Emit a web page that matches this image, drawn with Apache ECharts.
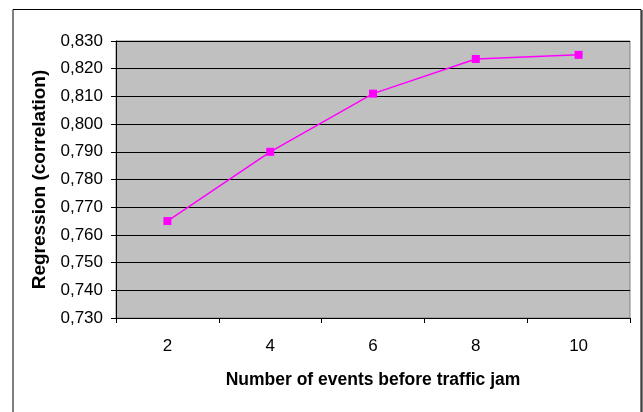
<!DOCTYPE html>
<html><head><meta charset="utf-8">
<script src="https://cdn.jsdelivr.net/npm/echarts@6/dist/echarts.min.js"></script>
<style>html,body{margin:0;padding:0;background:#fff}#c{width:643px;height:412px}</style>
</head><body><div id="c"></div>
<script>
const categories = ['2','4','6','8','10'];
const values = [0.765, 0.790, 0.811, 0.8235, 0.825];
const xName = 'Number of events before traffic jam';
const yName = 'Regression (correlation)';
const chart = echarts.init(document.getElementById('c'), null, {renderer:'canvas'});
chart.setOption({
  animation:false,
  backgroundColor:'#fff',
  graphic:[
    {type:'rect', shape:{x:13,y:9.5,width:628,height:420}, style:{fill:'none',stroke:'#000',lineWidth:1}, z:0},
    {type:'line', shape:{x1:642,y1:10,x2:642,y2:412}, style:{stroke:'#000',lineWidth:1}}
  ],
  grid:{left:116,top:41,right:13,bottom:94,show:true,backgroundColor:'#C0C0C0',borderColor:'#808080',borderWidth:1},
  xAxis:{type:'category',data:categories,boundaryGap:true,
    name:xName,nameLocation:'middle',nameGap:53,
    nameTextStyle:{fontFamily:'Liberation Sans',fontWeight:'bold',fontSize:17.5,color:'#000'},
    axisLine:{lineStyle:{color:'#000',width:1}},
    axisTick:{show:true,length:5,inside:false,lineStyle:{color:'#000'}},
    axisLabel:{fontFamily:'Liberation Sans',fontSize:17,color:'#000',margin:20},
    splitLine:{show:false}},
  yAxis:{type:'value',min:0.73,max:0.83,interval:0.01,
    name:yName,nameLocation:'middle',nameGap:62,nameRotate:90,
    nameTextStyle:{fontFamily:'Liberation Sans',fontWeight:'bold',fontSize:19,color:'#000'},
    axisLine:{show:true,lineStyle:{color:'#000',width:1}},
    axisTick:{show:true,length:5,lineStyle:{color:'#000'}},
    axisLabel:{fontFamily:'Liberation Sans',fontSize:17,color:'#000',margin:13,
      formatter:v=>v.toFixed(3).replace('.',',')},
    splitLine:{show:true,lineStyle:{color:'#000',width:1}}},
  series:[{type:'line',data:values,symbol:'rect',symbolSize:8,
    lineStyle:{color:'#FF00FF',width:1.5},itemStyle:{color:'#FF00FF'}}]
});
</script></body></html>
